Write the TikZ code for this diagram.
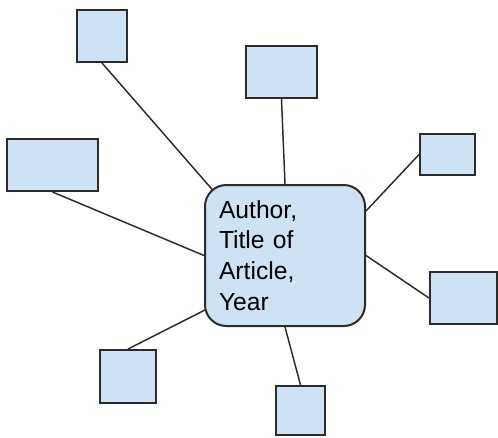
\documentclass[tikz,border=0pt]{standalone}
\usepackage{fontspec}
\setmainfont{Liberation Sans}
\usetikzlibrary{calc,backgrounds}
\definecolor{boxfill}{HTML}{CFE2F3}
\definecolor{edge}{HTML}{2B2B2B}
\begin{document}
\begin{tikzpicture}[x=0.75pt,y=-0.75pt,
  leaf/.style={draw=edge,fill=boxfill,line width=1.5pt,inner sep=0pt},
  hub/.style={draw=edge,fill=boxfill,line width=1.5pt,rounded corners=16pt,
    minimum width=120pt,minimum height=105.75pt,text width=99pt,inner xsep=10.5pt,inner ysep=0pt,
    align=left,font=\fontsize{18.5}{23}\selectfont},
  link/.style={draw=edge,line width=1.1pt}]
\useasboundingbox (0,0) rectangle (498,437);
\node[hub] (c) at (285,255.5) {Author,\\Title of\\Article,\\Year};
\node[leaf,minimum width=37.5pt,minimum height=39pt] (b1) at (102,36) {};
\node[leaf,minimum width=53.25pt,minimum height=39pt] (b2) at (281.5,72) {};
\node[leaf,minimum width=68.25pt,minimum height=39pt] (b3) at (52.5,165) {};
\node[leaf,minimum width=41.25pt,minimum height=30.75pt] (b4) at (447.5,154.5) {};
\node[leaf,minimum width=50.25pt,minimum height=39pt] (b5) at (463.5,298) {};
\node[leaf,minimum width=42pt,minimum height=39.75pt] (b6) at (128,376.5) {};
\node[leaf,minimum width=36.75pt,minimum height=36.75pt] (b7) at (300.5,410.5) {};
\begin{scope}[on background layer]
\draw[link] (b1.south) -- ($(c.north west)+(13,11)$);
\draw[link] (b2.south) -- (c.north);
\draw[link] (b3.south) -- (c.west);
\draw[link] (b4.west) -- ($(c.north east)+(0,27)$);
\draw[link] (b5.west) -- (c.east);
\draw[link] (b6.north) -- ($(c.south west)+(3,-18)$);
\draw[link] (b7.north) -- (c.south);
\end{scope}
\end{tikzpicture}
\end{document}
